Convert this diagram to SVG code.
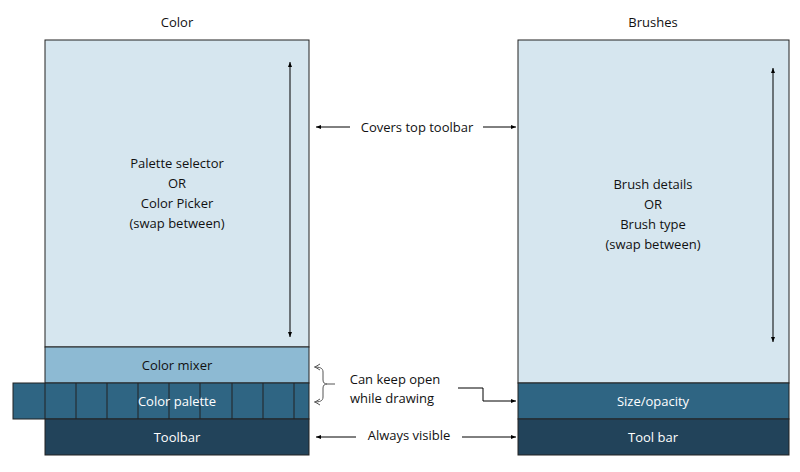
<svg xmlns="http://www.w3.org/2000/svg" width="800" height="472" viewBox="0 0 800 472">
<defs>
<marker id="a" viewBox="0 0 10 10" refX="10" refY="5" markerWidth="5" markerHeight="5" orient="auto-start-reverse"><path d="M0,1 L10,5 L0,9 z" fill="#000"/></marker>
<marker id="o" viewBox="0 0 10 10" refX="9" refY="5" markerWidth="6" markerHeight="6" orient="auto-start-reverse"><path d="M2,1 L9,5 L2,9" fill="none" stroke="#555" stroke-width="1.2"/></marker>
</defs>
<style>
text{font-family:"Open Sans","Liberation Sans",sans-serif;font-size:13px;text-anchor:middle;fill:#111}
.w{fill:#fff}
.b{stroke:#222;stroke-width:1}
.l{stroke:#000;stroke-width:1;fill:none}
</style>
<rect width="800" height="472" fill="#fff"/>
<text x="177" y="27">Color</text>
<text x="653" y="27">Brushes</text>
<g id="color-top"><rect x="45" y="40" width="264" height="307" fill="#D6E6EF" class="b"/>
<text x="177" y="168">Palette selector</text><text x="177" y="188">OR</text><text x="177" y="208">Color Picker</text><text x="177" y="228">(swap between)</text></g>
<g id="color-mixer"><rect x="45" y="347" width="264" height="36" fill="#8DBAD3" class="b"/><text x="177" y="370">Color mixer</text></g>
<g id="color-palette"><rect x="13" y="383" width="296" height="36" fill="#2F6583" class="b"/>
<path d="M45,383V419M76,383V419M107,383V419M138,383V419M169,383V419M200,383V419M232,383V419M263,383V419M294,383V419" class="b"/>
<text x="177" y="406" class="w">Color palette</text></g>
<g id="color-toolbar"><rect x="45" y="419" width="264" height="36" fill="#22435A" class="b"/><text x="177" y="442" class="w">Toolbar</text></g>
<g id="brush-top"><rect x="518" y="40" width="271" height="343" fill="#D6E6EF" class="b"/>
<text x="653" y="189">Brush details</text><text x="653" y="209">OR</text><text x="653" y="229">Brush type</text><text x="653" y="249">(swap between)</text></g>
<g id="brush-size"><rect x="518" y="383" width="271" height="36" fill="#2F6583" class="b"/><text x="653" y="406" class="w">Size/opacity</text></g>
<g id="brush-toolbar"><rect x="518" y="419" width="271" height="36" fill="#22435A" class="b"/><text x="653" y="442" class="w">Tool bar</text></g>
<g id="connectors">
<line x1="290" y1="62" x2="290" y2="337" class="l" marker-start="url(#a)" marker-end="url(#a)"/>
<line x1="773" y1="68" x2="773" y2="342" class="l" marker-start="url(#a)" marker-end="url(#a)"/>
<line x1="316" y1="127" x2="350" y2="127" class="l" marker-start="url(#a)"/>
<line x1="483" y1="127" x2="516" y2="127" class="l" marker-end="url(#a)"/>
<line x1="316" y1="437" x2="356" y2="437" class="l" marker-start="url(#a)"/>
<line x1="462" y1="437" x2="516" y2="437" class="l" marker-end="url(#a)"/>
<polyline points="458,388 483,388 483,401 516,401" class="l" marker-end="url(#a)"/>
<path d="M314,367 C320,367 323,368 323,372 V380 C323,383 325,384 327,384 H335 M327,384 C325,384 323,385 323,388 V397 C323,401 320,402 314,402" fill="none" stroke="#555" stroke-width="1"/>
<path d="M320,364 L315,367 L320,370 M320,399 L315,402 L320,405" fill="none" stroke="#555"/>
</g>
<text x="417" y="132">Covers top toolbar</text>
<text x="395" y="384">Can keep open</text>
<text x="392" y="403">while drawing</text>
<text x="409" y="440">Always visible</text>
</svg>
